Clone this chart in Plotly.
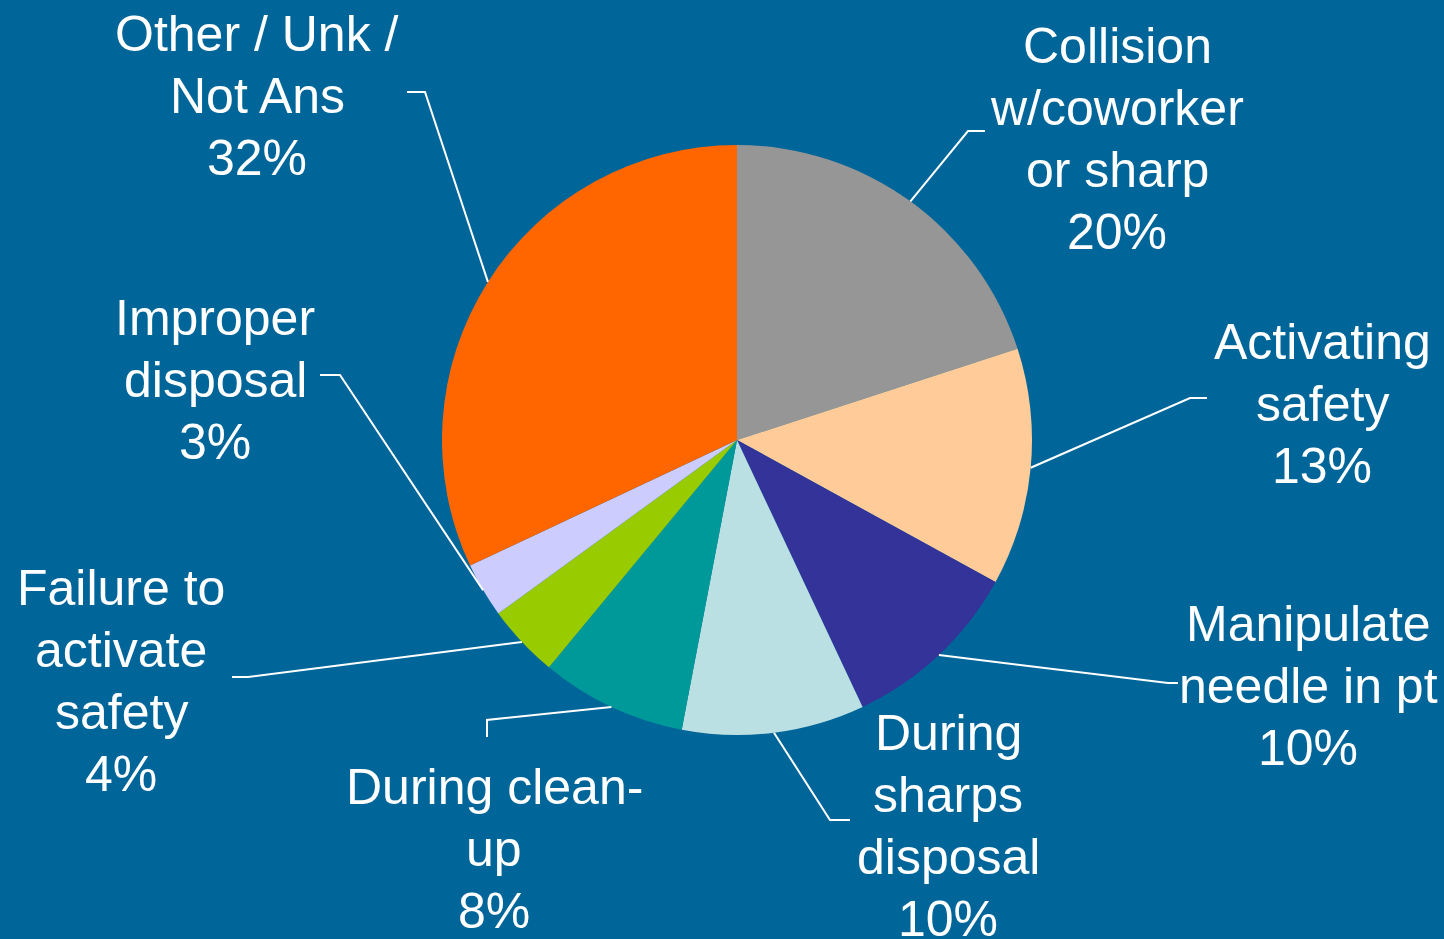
import math

import plotly.graph_objects as go

# Data
categories = [
    "Collision<br>w/coworker<br>or sharp",
    "Activating<br>safety",
    "Manipulate<br>needle in pt",
    "During<br>sharps<br>disposal",
    "During clean-<br>up",
    "Failure to<br>activate<br>safety",
    "Improper<br>disposal",
    "Other / Unk /<br>Not Ans",
]
percent = [20, 13, 10, 10, 8, 4, 3, 32]
colors = ["#969696", "#FFCC99", "#333399", "#BBE0E3", "#009999", "#99CC00", "#CCCCFF", "#FF6600"]

BG = "#006699"
W, H = 1444, 939
CX, CY, R = 737, 440, 295
FONT = "Liberation Sans, Arial, sans-serif"
LINE_H = 62  # label line pitch in px

# label block centre and leader elbow points (pixels)
label_pos = [(1117, 139), (1322, 404), (1308, 686), (948, 826),
             (494, 849), (121, 681), (215, 380), (257, 96)]
elbows = [
    [(968, 131), (985, 131)],
    [(1190, 398), (1207, 398)],
    [(1168, 683), (1178, 683)],
    [(830, 820), (850, 820)],
    [(487, 720), (487, 737)],
    [(248, 677), (232, 677)],
    [(340, 375), (320, 375)],
    [(425, 92), (407, 92)],
]

fig = go.Figure()
fig.add_trace(go.Pie(
    labels=[c.replace("<br>", " ") for c in categories],
    values=percent,
    sort=False,
    direction="clockwise",
    rotation=0,
    marker=dict(colors=colors, line=dict(width=0)),
    textinfo="none",
    hoverinfo="label+percent",
    showlegend=False,
    domain=dict(x=[(CX - R) / W, (CX + R) / W], y=[1 - (CY + R) / H, 1 - (CY - R) / H]),
))

total = sum(percent)
cum = 0
shapes = []
annotations = []
for cat, p, (lx, ly), elb in zip(categories, percent, label_pos, elbows):
    mid = (cum + p / 2) / total * 2 * math.pi
    cum += p
    sx, sy = CX + R * math.sin(mid), CY - R * math.cos(mid)
    pts = [(sx, sy)] + elb
    path = "M " + " L ".join(f"{x},{y}" for x, y in pts)
    shapes.append(dict(type="path", path=path, xref="x", yref="y",
                       line=dict(color="white", width=2)))
    lines = cat.split("<br>") + [f"{p}%"]
    n = len(lines)
    for i, txt in enumerate(lines):
        annotations.append(dict(
            x=lx, y=ly + (i - (n - 1) / 2) * LINE_H, xref="x", yref="y", text=txt,
            showarrow=False, xanchor="center", yanchor="middle", align="center",
            font=dict(family=FONT, size=50, color="white"),
        ))

fig.update_layout(
    width=W, height=H,
    margin=dict(l=0, r=0, t=0, b=0),
    paper_bgcolor=BG,
    plot_bgcolor="rgba(0,0,0,0)",
    xaxis=dict(range=[0, W], visible=False, fixedrange=True),
    yaxis=dict(range=[H, 0], visible=False, fixedrange=True),
    shapes=shapes,
    annotations=annotations,
)

fig.write_html(
    "out.html",
    config={"displayModeBar": False},
    post_script=f"document.body.style.margin='0';document.body.style.overflow='hidden';document.body.style.background='{BG}';",
)
